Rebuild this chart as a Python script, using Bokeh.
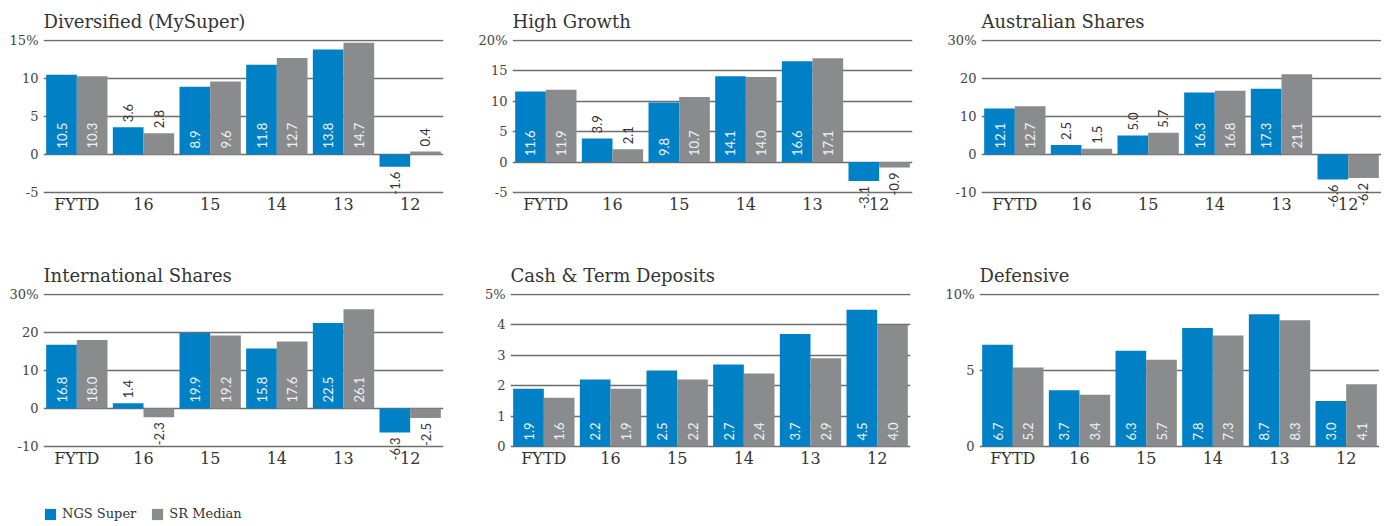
import math
from bokeh.plotting import figure
from bokeh.models import (Range1d, FactorRange, FixedTicker, ColumnDataSource, Legend,
                          LegendItem, LabelSet)
from bokeh.transform import dodge
from bokeh.layouts import column, row
from bokeh.embed import file_html
from bokeh.resources import INLINE
from bokeh.core.properties import value

# ---------------- data ----------------
categories = ["FYTD", "16", "15", "14", "13", "12"]
series_names = ["NGS Super", "SR Median"]

titles = ["Diversified (MySuper)", "High Growth", "Australian Shares",
          "International Shares", "Cash & Term Deposits", "Defensive"]

diversified_ngs = [10.5, 3.6, 8.9, 11.8, 13.8, -1.6]
diversified_sr = [10.3, 2.8, 9.6, 12.7, 14.7, 0.4]

high_growth_ngs = [11.6, 3.9, 9.8, 14.1, 16.6, -3.1]
high_growth_sr = [11.9, 2.1, 10.7, 14.0, 17.1, -0.9]

aus_shares_ngs = [12.1, 2.5, 5.0, 16.3, 17.3, -6.6]
aus_shares_sr = [12.7, 1.5, 5.7, 16.8, 21.1, -6.2]

intl_shares_ngs = [16.8, 1.4, 19.9, 15.8, 22.5, -6.3]
intl_shares_sr = [18.0, -2.3, 19.2, 17.6, 26.1, -2.5]

cash_ngs = [1.9, 2.2, 2.5, 2.7, 3.7, 4.5]
cash_sr = [1.6, 1.9, 2.2, 2.4, 2.9, 4.0]

defensive_ngs = [6.7, 3.7, 6.3, 7.8, 8.7, 3.0]
defensive_sr = [5.2, 3.4, 5.7, 7.3, 8.3, 4.1]

# axis ticks for each panel
diversified_ticks = [-5, 0, 5, 10, 15]
high_growth_ticks = [-5, 0, 5, 10, 15, 20]
aus_shares_ticks = [-10, 0, 10, 20, 30]
intl_shares_ticks = [-10, 0, 10, 20, 30]
cash_ticks = [0, 1, 2, 3, 4, 5]
defensive_ticks = [0, 5, 10]

# ---------------- style ----------------
BLUE = "#0081c6"
GREY = "#8a8b8d"
GRID = "#6e6e6e"
SERIF = "DejaVu Serif"
SANS = "Lato"
FRAME_W = 400
SPAN_H = 152          # pixel distance between lowest and highest gridline
PAD = 1               # px padding so the top gridline is not clipped
EXTRA = 30            # px of frame below lowest gridline (room for labels)


def make_panel(title, ngs, sr, ticks, left_border, right_border, bottom_border):
    ymin, ymax = ticks[0], ticks[-1]
    ppu = SPAN_H / (ymax - ymin)
    p = figure(x_range=FactorRange(*categories),
               y_range=Range1d(ymin - EXTRA / ppu, ymax + PAD / ppu),
               frame_width=FRAME_W, frame_height=SPAN_H + PAD + EXTRA,
               min_border_left=left_border, min_border_right=right_border,
               min_border_top=39, min_border_bottom=bottom_border,
               output_backend="svg", toolbar_location=None, title=title)
    p.title.text_font = SERIF
    p.title.text_font_size = "18px"
    p.title.text_font_style = "normal"
    p.title.text_color = "#333333"
    p.title.align = "left"
    p.title.standoff = 15
    p.title.text_line_height = 0.9
    p.outline_line_color = None
    p.background_fill_color = None
    p.border_fill_color = None

    src = ColumnDataSource(dict(cat=categories, ngs=ngs, sr=sr))
    p.vbar(x=dodge("cat", -0.23, range=p.x_range), top="ngs", bottom=0, width=0.46,
           source=src, fill_color=BLUE, line_color=None)
    p.vbar(x=dodge("cat", 0.23, range=p.x_range), top="sr", bottom=0, width=0.46,
           source=src, fill_color=GREY, line_color=None)

    # value labels (rotated, inside the bar when tall enough, otherwise outside)
    groups = {}
    for vals, off in ((ngs, -0.23), (sr, 0.23)):
        for c, v in zip(categories, vals):
            if v > 0 and v / (ymax - ymin) >= 0.2:
                key, y = ("in", off), 6 / ppu
            elif v >= 0:
                key, y = ("up", off), v + 5 / ppu
            else:
                key, y = ("down", off), v - 5 / ppu
            g = groups.setdefault(key, dict(cat=[], y=[], t=[]))
            g["cat"].append(c)
            g["y"].append(y)
            g["t"].append(f"{v:.1f}")
    for (kind, off), g in groups.items():
        ls = LabelSet(x=dodge("cat", off, range=p.x_range), y="y", text="t",
                      source=ColumnDataSource(g), angle=math.pi / 2,
                      text_align="right" if kind == "down" else "left",
                      text_baseline="middle",
                      text_color="#eef3f8" if kind == "in" else "#333333",
                      text_font_size="13px", text_font=value(SANS), level="overlay")
        p.add_layout(ls)

    # axes
    p.yaxis.ticker = FixedTicker(ticks=ticks)
    p.yaxis.major_label_overrides = {
        t: (f"{t}%" if t == ymax else f"{t}") for t in ticks}
    p.yaxis.axis_line_color = None
    p.yaxis.major_tick_line_color = None
    p.yaxis.minor_tick_line_color = None
    p.yaxis.major_tick_out = 0
    p.yaxis.major_tick_in = 0
    p.yaxis.axis_label_standoff = 0
    p.yaxis.major_label_text_font = SERIF
    p.yaxis.major_label_text_font_size = "13px"
    p.yaxis.major_label_text_color = "#444444"
    p.yaxis.major_label_standoff = 5

    p.xaxis.fixed_location = ymin
    p.xaxis.axis_line_color = None
    p.xaxis.major_tick_line_color = None
    p.xaxis.major_tick_out = 0
    p.xaxis.major_tick_in = 0
    p.xaxis.axis_label_standoff = 0
    p.xaxis.major_label_text_font = SERIF
    p.xaxis.major_label_text_font_size = "16px"
    p.xaxis.major_label_text_color = "#333333"
    p.xaxis.major_label_standoff = 2

    p.xgrid.grid_line_color = None
    p.ygrid.ticker = FixedTicker(ticks=ticks)
    p.ygrid.grid_line_color = GRID
    p.ygrid.grid_line_width = 1.5
    return p


p1 = make_panel(titles[0], diversified_ngs, diversified_sr, diversified_ticks, 43, 32, 32)
p2 = make_panel(titles[1], high_growth_ngs, high_growth_sr, high_growth_ticks, 35, 32, 32)
p3 = make_panel(titles[2], aus_shares_ngs, aus_shares_sr, aus_shares_ticks, 35, 0, 32)
p4 = make_panel(titles[3], intl_shares_ngs, intl_shares_sr, intl_shares_ticks, 43, 32, 16)
p5 = make_panel(titles[4], cash_ngs, cash_sr, cash_ticks, 35, 32, 16)
p6 = make_panel(titles[5], defensive_ngs, defensive_sr, defensive_ticks, 35, 0, 16)

# legend strip
pl = figure(width=400, height=32, x_range=Range1d(0, 1), y_range=Range1d(0, 1),
            output_backend="svg", toolbar_location=None, min_border=0)
pl.axis.visible = False
pl.grid.grid_line_color = None
pl.outline_line_color = None
dummy = ColumnDataSource(dict(x=[-5], top=[-5]))
r1 = pl.vbar(x="x", top="top", width=0.1, source=dummy, fill_color=BLUE, line_color=None)
r2 = pl.vbar(x="x", top="top", width=0.1, source=dummy, fill_color=GREY, line_color=None)
leg = Legend(items=[LegendItem(label=series_names[0], renderers=[r1]),
                    LegendItem(label=series_names[1], renderers=[r2])],
             orientation="horizontal", location=(43, 3), padding=0, margin=0,
             spacing=14, glyph_width=14, glyph_height=14, label_standoff=5,
             label_text_font=SERIF, label_text_font_size="13px",
             label_text_color="#333333", border_line_color=None,
             background_fill_alpha=0, label_height=14)
pl.add_layout(leg, "center")

layout = column(row(p1, p2, p3), row(p4, p5, p6), pl)

open("out.html", "w").write(file_html(layout, INLINE))
